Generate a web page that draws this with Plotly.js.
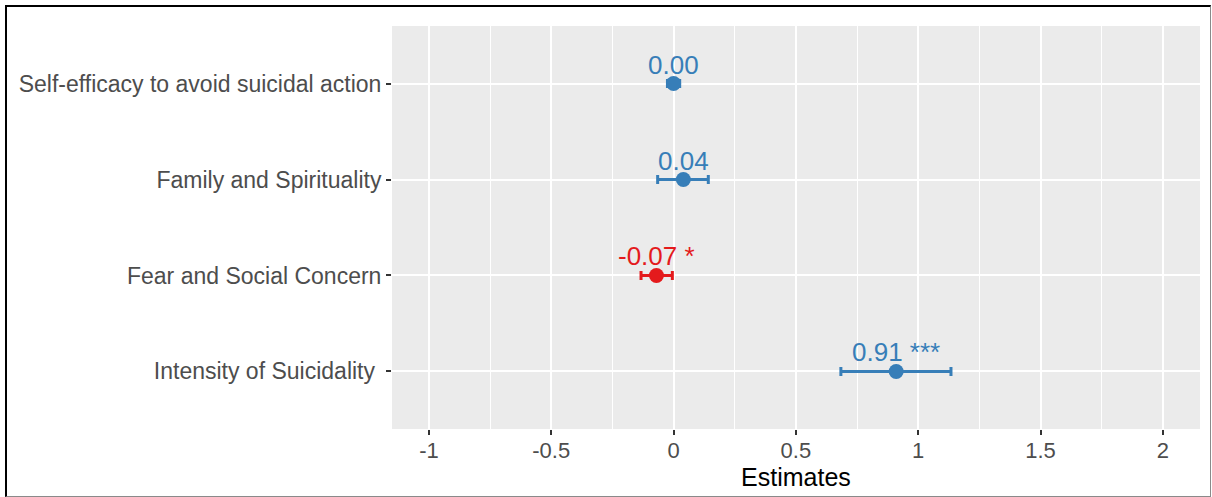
<!DOCTYPE html>
<html>
<head>
<meta charset="utf-8">
<script src="https://cdn.plot.ly/plotly-3.0.1.min.js"></script>
<style>
  html, body { margin: 0; padding: 0; background: #fff; }
  #wrap { position: relative; width: 1212px; height: 497px; }
  #chart { position: absolute; left: 0; top: 0; width: 1212px; height: 497px; }
  #frame { position: absolute; left: 5px; top: 5px; width: 1203px; height: 489px;
           border-top: 2px solid #000; border-left: 2px solid #000;
           border-right: 1px solid #8a8a8a; border-bottom: 1px solid #8a8a8a;
           pointer-events: none; }
</style>
</head>
<body>
<div id="wrap">
  <div id="chart"></div>
  <div id="frame"></div>
</div>
<script>
// Data (bottom to top)
const categories = ['Intensity of Suicidality\u00a0', 'Fear and Social Concern', 'Family and Spirituality', 'Self-efficacy to avoid suicidal action'];
const estimates = [0.91, -0.07, 0.04, 0.00];
const ciLow = [0.684, -0.133, -0.065, -0.025];
const ciHigh = [1.134, -0.005, 0.142, 0.025];
const stars = ['***', '*', '', ''];
const xTickVals = [-1, -0.5, 0, 0.5, 1, 1.5, 2];
const xTickText = ['-1', '-0.5', '0', '0.5', '1', '1.5', '2'];
const xMinorVals = [-0.75, -0.25, 0.25, 0.75, 1.25, 1.75];

const BLUE = '#377EB8', RED = '#E41A1C';
const FONT = '"Liberation Sans", Arial, Helvetica, sans-serif';

const colorOf = v => (v < 0 ? RED : BLUE);

const traces = categories.map((c, i) => ({
  type: 'scatter',
  mode: 'markers',
  x: [estimates[i]],
  y: [i + 1],
  marker: { color: colorOf(estimates[i]), size: 15 },
  error_x: {
    type: 'data', symmetric: false,
    array: [ciHigh[i] - estimates[i]],
    arrayminus: [estimates[i] - ciLow[i]],
    color: colorOf(estimates[i]), thickness: 3, width: 4.5
  },
  showlegend: false,
  hoverinfo: 'skip'
}));

const annotations = categories.map((c, i) => ({
  x: estimates[i], y: i + 1, xref: 'x', yref: 'y',
  text: estimates[i].toFixed(2) + (stars[i] ? ' ' + stars[i] : ''),
  showarrow: false, xanchor: 'center', yanchor: 'middle', yshift: 19,
  font: { family: FONT, size: 26, color: colorOf(estimates[i]) }
}));

const layout = {
  width: 1212, height: 497,
  margin: { l: 392, r: 12, t: 26, b: 68, pad: 0 },
  paper_bgcolor: '#ffffff',
  plot_bgcolor: '#EBEBEB',
  font: { family: FONT },
  showlegend: false,
  annotations: annotations,
  xaxis: {
    range: [-1.151, 2.152],
    tickmode: 'array', tickvals: xTickVals, ticktext: xTickText,
    ticks: 'outside', ticklen: 5, tickwidth: 2, tickcolor: '#333333',
    tickfont: { family: FONT, size: 22, color: '#4D4D4D' },
    ticklabelstandoff: -3,
    showgrid: true, gridcolor: '#ffffff', gridwidth: 2,
    minor: { tickmode: 'array', tickvals: xMinorVals, showgrid: true, gridcolor: '#ffffff', gridwidth: 1, ticks: '' },
    zeroline: false, showline: false, fixedrange: true,
    title: { text: 'Estimates', font: { family: FONT, size: 25, color: '#000000' }, standoff: 6 }
  },
  yaxis: {
    range: [0.4, 4.6],
    tickmode: 'array', tickvals: [1, 2, 3, 4], ticktext: categories,
    ticks: 'outside', ticklen: 5, tickwidth: 2, tickcolor: '#333333',
    tickfont: { family: FONT, size: 23, color: '#4D4D4D' },
    showgrid: true, gridcolor: '#ffffff', gridwidth: 2,
    zeroline: false, showline: false, fixedrange: true
  }
};

Plotly.newPlot('chart', traces, layout, { displayModeBar: false, staticPlot: true });
</script>
</body>
</html>
